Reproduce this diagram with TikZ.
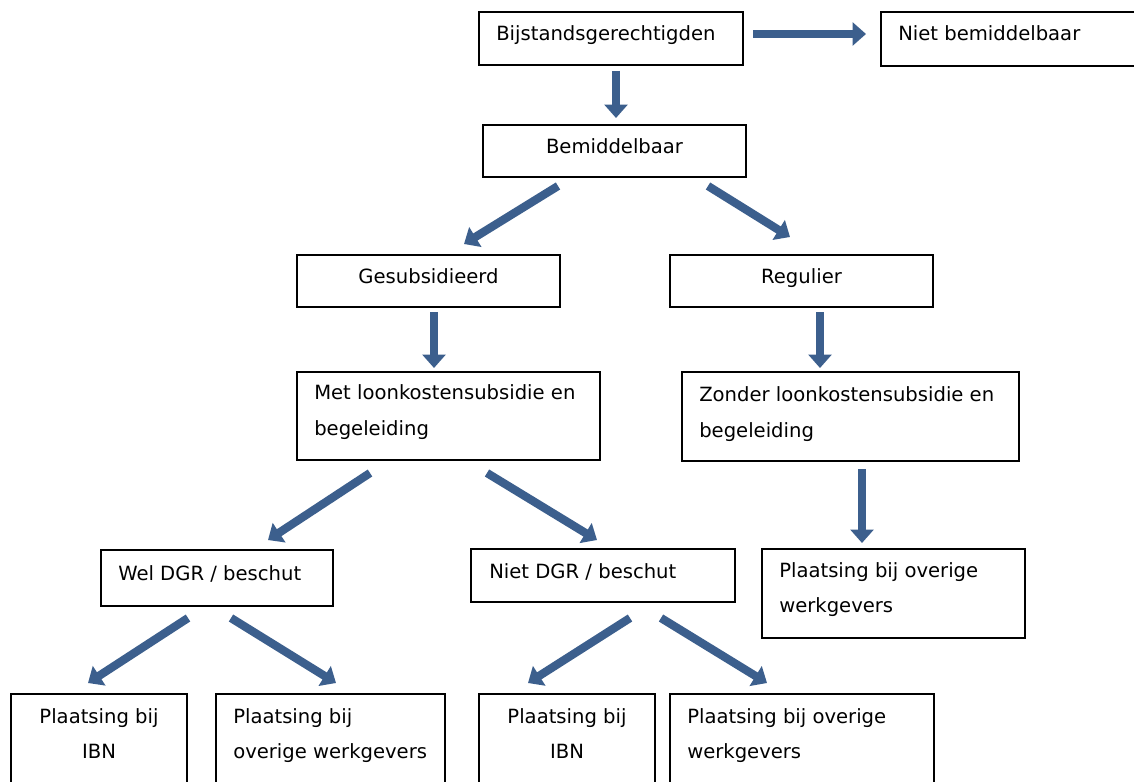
\documentclass[tikz,border=0pt]{standalone}
\usepackage{fontspec}
\setmainfont{DejaVu Sans}
\usetikzlibrary{arrows.meta}
\definecolor{arrblue}{HTML}{3C5F8D}
\begin{document}
\begin{tikzpicture}[x=0.75pt,y=-0.75pt,
  box/.style={draw=black, line width=1.1pt, rectangle, inner sep=0pt, outer sep=0pt, anchor=north west},
  txt/.style={font=\fontsize{14.7}{17}\selectfont, inner sep=0pt, text=black},
  arr/.style={draw=arrblue, line width=6.2pt, -{Triangle[width=17pt,length=10pt]}}]
\clip (0,0) rectangle (1134,781);
\fill[white] (0,0) rectangle (1134,781);
% boxes
\node[box, minimum width=198pt,    minimum height=39.75pt] (b1)  at (479,12) {};
\node[box, minimum width=194.25pt, minimum height=40.5pt]  (b2)  at (881,12) {};
\node[box, minimum width=197.25pt, minimum height=39pt]    (b3)  at (483,125) {};
\node[box, minimum width=197.25pt, minimum height=39pt]    (b4)  at (297,255) {};
\node[box, minimum width=197.25pt, minimum height=39pt]    (b5)  at (670,255) {};
\node[box, minimum width=227.25pt, minimum height=66pt]    (b6)  at (297,372) {};
\node[box, minimum width=252.75pt, minimum height=66.75pt] (b7)  at (682,372) {};
\node[box, minimum width=174pt,    minimum height=42pt]    (b8)  at (101,550) {};
\node[box, minimum width=198pt,    minimum height=39.75pt] (b9)  at (471,549) {};
\node[box, minimum width=197.25pt, minimum height=66.75pt] (b10) at (762,549) {};
\node[box, minimum width=132pt,    minimum height=82.5pt]  (b11) at (11,694) {};
\node[box, minimum width=171.75pt, minimum height=82.5pt]  (b12) at (216,694) {};
\node[box, minimum width=132pt,    minimum height=82.5pt]  (b13) at (479,694) {};
\node[box, minimum width=198pt,    minimum height=82.5pt]  (b14) at (670,694) {};
% texts
\node[txt, anchor=base west] (t1)  at (496,41) {Bijstandsgerechtigden};
\node[txt, anchor=base west] (t2)  at (898,41) {Niet bemiddelbaar};
\node[txt, anchor=base]      (t3)  at (614.5,153) {Bemiddelbaar};
\node[txt, anchor=base]      (t4)  at (428.5,283) {Gesubsidieerd};
\node[txt, anchor=base]      (t5)  at (801.5,283) {Regulier};
\node[txt, anchor=base west] (t6a) at (314,399) {Met loonkostensubsidie en};
\node[txt, anchor=base west] (t6b) at (314,435) {begeleiding};
\node[txt, anchor=base west] (t7a) at (699,401) {Zonder loonkostensubsidie en};
\node[txt, anchor=base west] (t7b) at (699,437) {begeleiding};
\node[txt, anchor=base west] (t8)  at (118,580) {Wel DGR / beschut};
\node[txt, anchor=base west] (t9)  at (489,578) {Niet DGR / beschut};
\node[txt, anchor=base west] (t10a) at (779,577) {Plaatsing bij overige};
\node[txt, anchor=base west] (t10b) at (779,612) {werkgevers};
\node[txt, anchor=base]      (t11a) at (99,723) {Plaatsing bij};
\node[txt, anchor=base]      (t11b) at (99,758) {IBN};
\node[txt, anchor=base west] (t12a) at (233,723) {Plaatsing bij};
\node[txt, anchor=base west] (t12b) at (233,758) {overige werkgevers};
\node[txt, anchor=base]      (t13a) at (567,723) {Plaatsing bij};
\node[txt, anchor=base]      (t13b) at (567,758) {IBN};
\node[txt, anchor=base west] (t14a) at (687,723) {Plaatsing bij overige};
\node[txt, anchor=base west] (t14b) at (687,758) {werkgevers};
% arrow end points
\coordinate (a1s) at (753,34);   \coordinate (a1e) at (866,34);
\coordinate (a2s) at (616,71);   \coordinate (a2e) at (616,118);
\coordinate (a3s) at (558,186);  \coordinate (a3e) at (464,244);
\coordinate (a4s) at (708,186);  \coordinate (a4e) at (790,237);
\coordinate (a5s) at (434,312);  \coordinate (a5e) at (434,368);
\coordinate (a6s) at (820,312);  \coordinate (a6e) at (820,368);
\coordinate (a7s) at (370,473);  \coordinate (a7e) at (268,540);
\coordinate (a8s) at (487,473);  \coordinate (a8e) at (597,540);
\coordinate (a9s) at (862,469);  \coordinate (a9e) at (862,543);
\coordinate (a10s) at (188,618); \coordinate (a10e) at (88,683);
\coordinate (a11s) at (231,618); \coordinate (a11e) at (336,683);
\coordinate (a12s) at (630,618); \coordinate (a12e) at (528,683);
\coordinate (a13s) at (661,618); \coordinate (a13e) at (767,683);
\foreach \i in {1,...,13} {\draw[arr] (a\i s) -- (a\i e);}
\end{tikzpicture}
\end{document}
